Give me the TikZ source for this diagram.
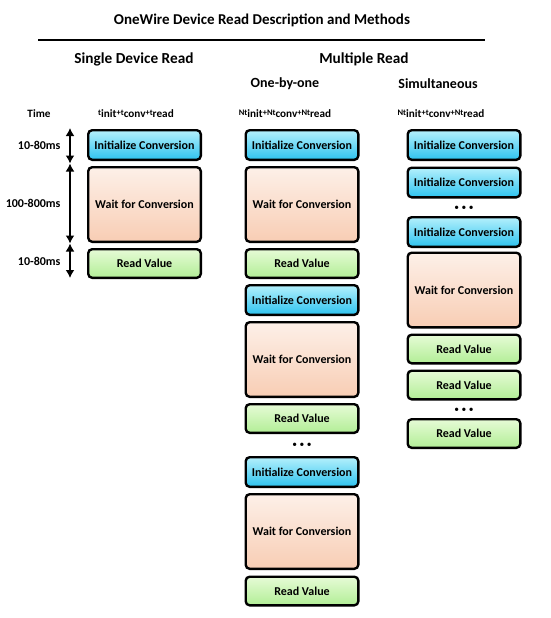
\documentclass[tikz,border=0pt]{standalone}
\usepackage{fontspec}
\setmainfont{Carlito}
\usetikzlibrary{arrows.meta}

\definecolor{inittop}{HTML}{B4F0FC}
\definecolor{initbot}{HTML}{2EC3EF}
\definecolor{waittop}{HTML}{FDF0E8}
\definecolor{waitbot}{HTML}{F8CDB4}
\definecolor{readtop}{HTML}{E6FBD6}
\definecolor{readbot}{HTML}{B2EE96}

\tikzset{
  box/.style={draw, line width=2.4pt, rounded corners=4pt, font=\bfseries\fontsize{12}{14}\selectfont,
    minimum width=112.6pt, inner sep=0pt},
  initbox/.style={box, top color=inittop, bottom color=initbot, minimum height=29.6pt},
  waitbox/.style={box, top color=waittop, bottom color=waitbot, minimum height=74.6pt},
  readbox/.style={box, top color=readtop, bottom color=readbot, minimum height=28.6pt},
  head/.style={font=\bfseries\fontsize{15.3}{17}\selectfont},
  subhead/.style={font=\bfseries\fontsize{14}{16}\selectfont},
  formula/.style={font=\bfseries\fontsize{11.2}{13}\selectfont},
  span/.style={font=\bfseries\fontsize{12}{14}\selectfont, anchor=east},
  dots/.style={font=\fontsize{9.5}{10}\selectfont},
  dur/.style={line width=2.8pt, {Latex[length=8pt,width=9pt]}-{Latex[length=8pt,width=9pt]}}
}
\newcommand{\tsym}{\raisebox{0.45ex}{\fontsize{8.5}{9}\selectfont t}}
\newcommand{\psym}{\raisebox{0.45ex}{\fontsize{8.5}{9}\selectfont +}}
\newcommand{\Ntsym}{\raisebox{0.45ex}{\fontsize{8.5}{9}\selectfont Nt}}
\newcommand{\dotrow}{\textbullet\hspace{2.5pt}\textbullet\hspace{2.5pt}\textbullet}

\begin{document}
\begin{tikzpicture}[x=1pt, y=-1pt]
		\useasboundingbox (0,0) rectangle (550,618);
		% headings
		\node[font=\bfseries\fontsize{15}{17}\selectfont] (title) at (262,20) {OneWire Device Read Description and Methods};
		\coordinate (ruleL) at (38,40);
		\coordinate (ruleR) at (485,40);
		\draw[line width=2pt] (ruleL) -- (ruleR);
		\node[head] (single) at (134,59) {Single Device Read};
		\node[head] (multi) at (364,59) {Multiple Read};
		\node[subhead] (onebyone) at (285,84) {One-by-one};
		\node[subhead] (simul) at (438,84) {Simultaneous};
		\node[formula] (time) at (39,114) {Time};
		\node[formula] (f1) at (136,114) {\tsym init\psym\tsym conv\psym\tsym read};
		\node[formula] (f2) at (285,114) {\Ntsym init\psym\Ntsym conv\psym\Ntsym read};
		\node[formula] (f3) at (441,114) {\Ntsym init\psym\tsym conv\psym\Ntsym read};
		% single device read
		\node[initbox] (s1) at (144.5,145) {Initialize Conversion};
		\node[waitbox] (s2) at (144.5,204.5) {Wait for Conversion};
		\node[readbox] (s3) at (144.5,263.5) {Read Value};
		\coordinate (a0) at (70,128);
		\coordinate (a1) at (70,163.5);
		\coordinate (a2) at (70,243.5);
		\coordinate (a3) at (70,278);
		\draw[dur] (a0) -- (a1);
		\draw[dur] (a1) -- (a2);
		\draw[dur] (a2) -- (a3);
		\node[span] (d1) at (64,145) {10-80ms};
		\node[span] (d2) at (64,203) {100-800ms};
		\node[span] (d3) at (64,261) {10-80ms};
		% one-by-one
		\node[initbox] (o1) at (302,145) {Initialize Conversion};
		\node[waitbox] (o2) at (302,204.5) {Wait for Conversion};
		\node[readbox] (o3) at (302,263.5) {Read Value};
		\node[initbox] (o4) at (302,300) {Initialize Conversion};
		\node[waitbox] (o5) at (302,359.5) {Wait for Conversion};
		\node[readbox] (o6) at (302,418.5) {Read Value};
		\node[dots] (odots) at (302,445) {\dotrow};
		\node[initbox] (o7) at (302,472) {Initialize Conversion};
		\node[waitbox] (o8) at (302,531.5) {Wait for Conversion};
		\node[readbox] (o9) at (302,591) {Read Value};
		% simultaneous
		\node[initbox] (m1) at (464,145) {Initialize Conversion};
		\node[initbox] (m2) at (464,182.5) {Initialize Conversion};
		\node[dots] (mdots1) at (464,208) {\dotrow};
		\node[initbox] (m3) at (464,232) {Initialize Conversion};
		\node[waitbox] (m4) at (464,290) {Wait for Conversion};
		\node[readbox] (m5) at (464,349) {Read Value};
		\node[readbox] (m6) at (464,385) {Read Value};
		\node[dots] (mdots2) at (464,410) {\dotrow};
		\node[readbox] (m7) at (464,433.5) {Read Value};
	\end{tikzpicture}
\end{document}
